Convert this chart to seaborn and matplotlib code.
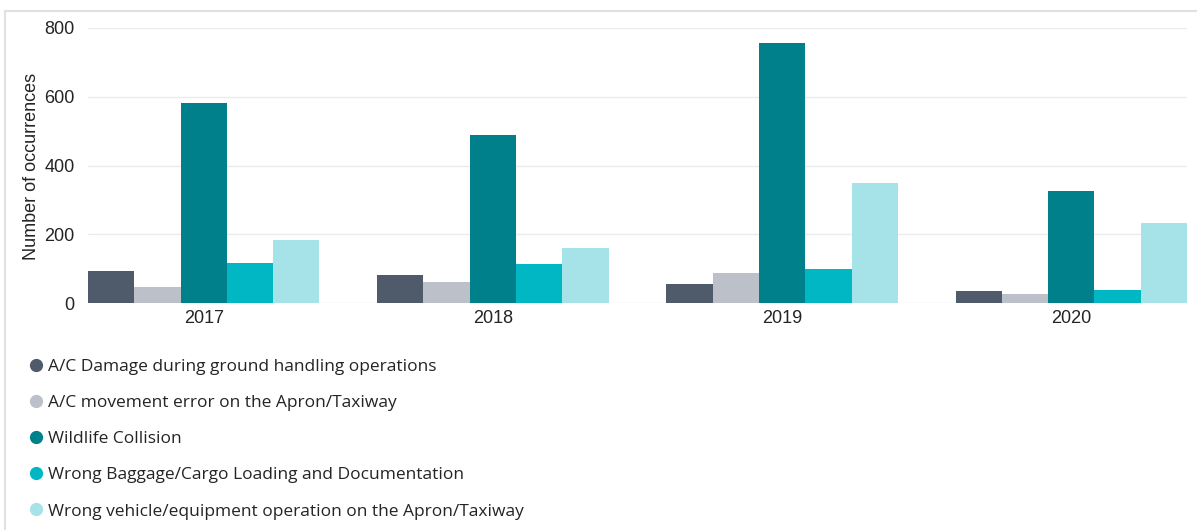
import pandas as pd
import matplotlib.pyplot as plt
import seaborn as sns
from matplotlib.lines import Line2D

# -----------------------------
# DATA
# -----------------------------
years = ["2017", "2018", "2019", "2020"]
categories = [
    "A/C Damage during ground handling operations",
    "A/C movement error on the Apron/Taxiway",
    "Wildlife Collision",
    "Wrong Baggage/Cargo Loading and Documentation",
    "Wrong vehicle/equipment operation on the Apron/Taxiway",
]
damage = [92, 82, 55, 34]
movement = [48, 61, 88, 25]
wildlife = [581, 488, 755, 325]
baggage = [116, 113, 99, 38]
vehicle = [184, 159, 350, 234]

colors = ["#4F5B6B", "#BCC1C9", "#00808A", "#00B7C3", "#A6E3E8"]

series = [damage, movement, wildlife, baggage, vehicle]
rows = []
for cat, vals in zip(categories, series):
    for y, v in zip(years, vals):
        rows.append({"Year": y, "Category": cat, "Count": v})
df = pd.DataFrame(rows)

# -----------------------------
# PLOT
# -----------------------------
sns.set_style("white")
plt.rcParams["font.family"] = ["Liberation Sans", "DejaVu Sans"]

W, H = 1197, 530
fig = plt.figure(figsize=(W / 100, H / 100), dpi=100)
ax = fig.add_axes([88 / W, 1 - 303 / H, (1187 - 88) / W, (303 - 28) / H])

sns.barplot(data=df, x="Year", y="Count", hue="Category", palette=colors,
            hue_order=categories, order=years, width=0.8, saturation=1,
            linewidth=0, ax=ax, legend=False)

ax.set_xlim(-0.4, 3.4)
ax.set_ylim(0, 800)
ax.set_yticks([0, 200, 400, 600, 800])
ax.grid(axis="y", color="#EBEBEB", linewidth=1)
ax.set_axisbelow(True)
for s in ax.spines.values():
    s.set_visible(False)
ax.tick_params(axis="both", length=0, labelsize=13, colors="#252423")
ax.tick_params(axis="y", pad=9.5)
ax.tick_params(axis="x", pad=5)
ax.set_xlabel("")
ax.set_ylabel("Number of occurrences", fontsize=13, color="#252423")
ax.yaxis.set_label_coords(-48 / 1099, (303 - 166) / 275)

# legend below the chart
handles = [Line2D([], [], marker="o", linestyle="", markersize=8.5,
                  markerfacecolor=c, markeredgecolor=c) for c in colors]
fig.legend(handles, categories, loc="upper left",
           bbox_to_anchor=(19 / W, 1 - 352 / H), frameon=False,
           prop={"family": "Open Sans", "size": 12.5}, labelcolor="#252423",
           handletextpad=0.05, labelspacing=1.15, handlelength=1.2,
           borderaxespad=0)

# card border
fig.add_artist(Line2D([5 / W, 1], [1 - 11 / H, 1 - 11 / H], color="#E1E1E1",
                      linewidth=1.5, transform=fig.transFigure))
fig.add_artist(Line2D([5 / W, 5 / W], [0, 1 - 11 / H], color="#E1E1E1",
                      linewidth=1.5, transform=fig.transFigure))

fig.savefig("out.png", dpi=100)
